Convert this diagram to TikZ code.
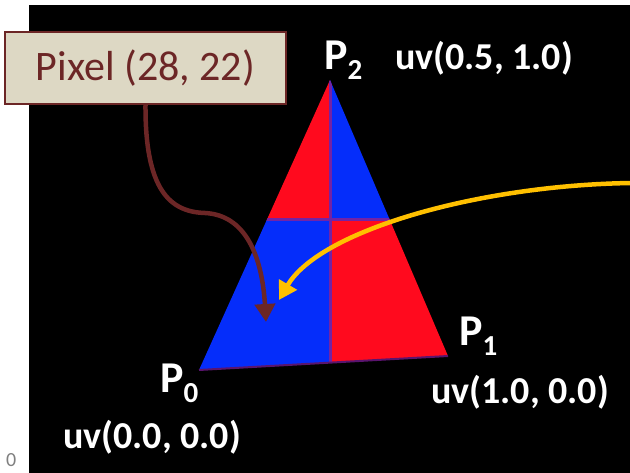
\documentclass[tikz,border=0pt]{standalone}
\usepackage{fontspec}
\setmainfont{Carlito}
\usetikzlibrary{arrows.meta}
\definecolor{tred}{RGB}{255,10,30}
\definecolor{tblue}{RGB}{5,45,250}
\definecolor{tpurple}{RGB}{115,35,165}
\definecolor{edgec}{RGB}{90,20,110}
\definecolor{brownc}{RGB}{108,38,38}
\definecolor{boxfill}{RGB}{221,216,196}
\definecolor{yel}{RGB}{255,192,0}
\begin{document}
\begin{tikzpicture}[x=1pt,y=-1pt,
  lbl/.style={text=white, anchor=base west, inner sep=0pt},
  plbl/.style={lbl, font=\fontsize{44}{44}\selectfont\bfseries},
  uvlbl/.style={lbl, font=\fontsize{38}{38}\selectfont\bfseries},
  conn/.style={line width=4.5pt, -{Triangle[length=18pt,width=20pt]}}]
\useasboundingbox (0,0) rectangle (630,473);
\fill[white] (0,0) rectangle (630,473);
\fill[black] (29,5) rectangle (631,474);
\node[anchor=base west, inner sep=0pt, text=gray, font=\fontsize{20}{20}\selectfont] (zero) at (6,467) {0};
% triangle
\coordinate (v0) at (199,370);
\coordinate (v1) at (448,356);
\coordinate (v2) at (330,80);
\begin{scope}
  \clip (v0) -- (v1) -- (v2) -- cycle;
  \fill[tred] (150,60) rectangle (330,220);
  \fill[tblue] (330,60) rectangle (460,220);
  \fill[tblue] (150,220) rectangle (330,380);
  \fill[tred] (330,220) rectangle (460,380);
  \draw[tpurple, line width=3pt] (330,60) -- (330,380);
  \draw[tpurple, line width=3pt] (150,220) -- (460,220);
\end{scope}
\draw[edgec, line width=2pt] (v0) -- (v1);
% labels
\node[plbl] (p2) at (324,70) {P\raisebox{-10pt}{\fontsize{29}{29}\selectfont 2}};
\node[plbl] (p1) at (459,346) {P\raisebox{-10pt}{\fontsize{29}{29}\selectfont 1}};
\node[plbl] (p0) at (160,392) {P\raisebox{-10pt}{\fontsize{29}{29}\selectfont 0}};
\node[uvlbl] (uv2) at (395,70) {uv(0.5, 1.0)};
\node[uvlbl] (uv1) at (431,403) {uv(1.0, 0.0)};
\node[uvlbl] (uv0) at (63,448) {uv(0.0, 0.0)};
% pixel box
\node[draw=brownc, line width=2pt, fill=boxfill, text=brownc, minimum width=281pt, minimum height=72pt, inner sep=0pt, font=\fontsize{42}{42}\selectfont] (pixbox) at (145.5,68) {Pixel (28, 22)};
% connectors
\coordinate (pixtip) at (266,322);
\coordinate (ystart) at (632,183);
\coordinate (ytip) at (279,300);
\draw[brownc, conn] (pixbox.south) .. controls (145,190) and (170,212) .. (205,213) .. controls (245,215) and (262,255) .. (pixtip);
\draw[yel, conn] (ystart) .. controls (480,185) and (320,230) .. (ytip);
\end{tikzpicture}
\end{document}
